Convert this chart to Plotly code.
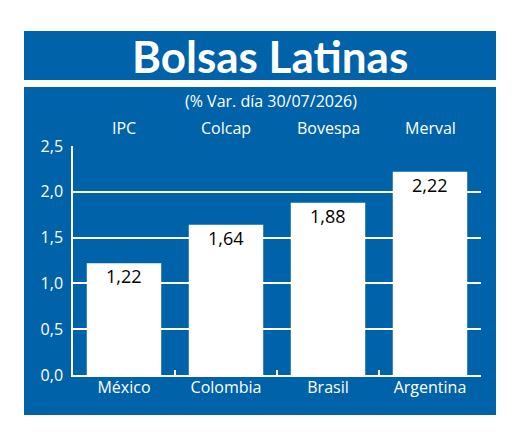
import plotly.graph_objects as go

countries = ["México", "Colombia", "Brasil", "Argentina"]
indices = ["IPC", "Colcap", "Bovespa", "Merval"]
values = [1.22, 1.64, 1.88, 2.22]
value_labels = ["1,22", "1,64", "1,88", "2,22"]

W, H = 520, 439
L, R, T, B = 73, 481, 146, 375
BLUE = "#0062A9"

def px(x):
    return (x - L) / (R - L)

def py(y):
    return (B - y) / (B - T)

fig = go.Figure()
fig.add_trace(go.Bar(
    x=countries, y=values,
    marker=dict(color="white", line=dict(width=0)),
    width=0.73, cliponaxis=False,
))

shapes = [
    dict(type="rect", xref="paper", yref="paper", x0=px(24), x1=px(496), y0=py(80), y1=py(31),
         fillcolor=BLUE, line=dict(width=0), layer="below"),
    dict(type="rect", xref="paper", yref="paper", x0=px(24), x1=px(496), y0=py(415), y1=py(87),
         fillcolor=BLUE, line=dict(width=0), layer="below"),
]

annotations = [
    dict(text="<b>Bolsas Latinas</b>", xref="paper", yref="paper", x=px(270), y=py(56),
         showarrow=False, font=dict(color="white", size=44, family="Lato"), xanchor="center", yanchor="middle"),
    dict(text="(% Var. día 30/07/2026)", xref="paper", yref="paper", x=px(271), y=py(101),
         showarrow=False, font=dict(color="white", size=16, family="Open Sans"), xanchor="center", yanchor="middle"),
]
for c, lab in zip(countries, indices):
    annotations.append(dict(text=lab, x=c, xref="x", y=py(128), yref="paper", showarrow=False,
                            font=dict(color="white", size=16, family="Open Sans"),
                            xanchor="center", yanchor="middle"))
for c, v, t in zip(countries, values, value_labels):
    annotations.append(dict(text=t, x=c, xref="x", y=v, yref="y", yshift=-13, showarrow=False,
                            font=dict(color="black", size=18, family="Open Sans"),
                            xanchor="center", yanchor="middle"))

fig.update_layout(
    width=W, height=H,
    margin=dict(l=L, r=W - R, t=T, b=H - B, pad=0),
    paper_bgcolor="white", plot_bgcolor="rgba(0,0,0,0)",
    separators=",.",
    showlegend=False,
    shapes=shapes, annotations=annotations,
    bargap=0.27,
    font=dict(family="Open Sans", color="white"),
)
fig.update_xaxes(
    showline=True, linecolor="white", linewidth=1.5,
    showgrid=False, ticks="inside", tickson="boundaries", ticklen=5,
    tickcolor="white", tickwidth=1.5,
    tickfont=dict(color="white", size=16, family="Open Sans"),
    ticklabelstandoff=-3,
)
fig.update_yaxes(
    range=[0, 2.5], dtick=0.5, tickformat=".1f",
    showline=True, linecolor="white", linewidth=1.5,
    showgrid=True, gridcolor="white", gridwidth=1.5, zeroline=False,
    tickfont=dict(color="white", size=16, family="Open Sans"),
    ticks="", ticklabelstandoff=5,
)

fig.write_html("out.html")
